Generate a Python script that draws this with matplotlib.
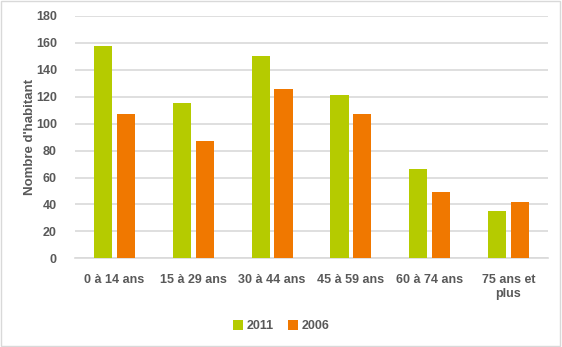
import matplotlib
matplotlib.use("Agg")
import matplotlib.pyplot as plt
import numpy as np
from matplotlib.patches import Rectangle

# population by age bracket
categories = ["0 à 14 ans", "15 à 29 ans", "30 à 44 ans", "45 à 59 ans", "60 à 74 ans", "75 ans et\nplus"]
pop_2011 = [158, 115, 150, 121, 66, 35]
pop_2006 = [107, 87, 126, 107, 49, 42]

green = "#B5CB00"
orange = "#F07800"
txt = "#595959"

plt.rcParams['font.family'] = ['Liberation Sans', 'DejaVu Sans']

fig = plt.figure(figsize=(5.62, 3.47), dpi=100)
ax = fig.add_axes([0.1335, 0.2556, 0.8415, 0.6983])

x = np.arange(len(categories))
w = 0.23
ax.bar(x - 0.145, pop_2011, width=w, color=green, label="2011", zorder=3)
ax.bar(x + 0.145, pop_2006, width=w, color=orange, label="2006", zorder=3)

ax.set_xlim(-0.5, len(categories) - 0.5)
ax.set_ylim(0, 180)
ax.set_yticks(range(0, 181, 20))
ax.yaxis.grid(True, color="#D9D9D9", linewidth=1.2, zorder=0)
ax.set_axisbelow(True)
for s in ["top", "right", "left"]:
    ax.spines[s].set_visible(False)
ax.spines["bottom"].set_color("#D9D9D9")
ax.spines["bottom"].set_linewidth(1.2)
ax.tick_params(axis="both", length=0, colors=txt, labelsize=9)
ax.tick_params(axis="y", pad=13)
ax.tick_params(axis="x", pad=11)
ax.set_xticks(x)
ax.set_xticklabels(categories, fontweight="bold", linespacing=1.25)
for lab in ax.get_yticklabels():
    lab.set_fontweight("bold")

ax.set_ylabel("Nombre d'habitant", fontsize=9.5, fontweight="bold", color=txt, labelpad=0)

leg = fig.legend(loc="center", bbox_to_anchor=(0.5, 0.06), ncol=2, frameon=False,
                 handlelength=0.8, handleheight=0.8, handletextpad=0.3, columnspacing=1.1,
                 prop={"weight": "bold", "size": 9})
for t in leg.get_texts():
    t.set_color(txt)

# chart frame
fig.patches.append(Rectangle((0.002, 0.003), 0.995, 0.994, transform=fig.transFigure,
                             fill=False, edgecolor="#D9D9D9", linewidth=1))

fig.savefig("out.png", dpi=100)
